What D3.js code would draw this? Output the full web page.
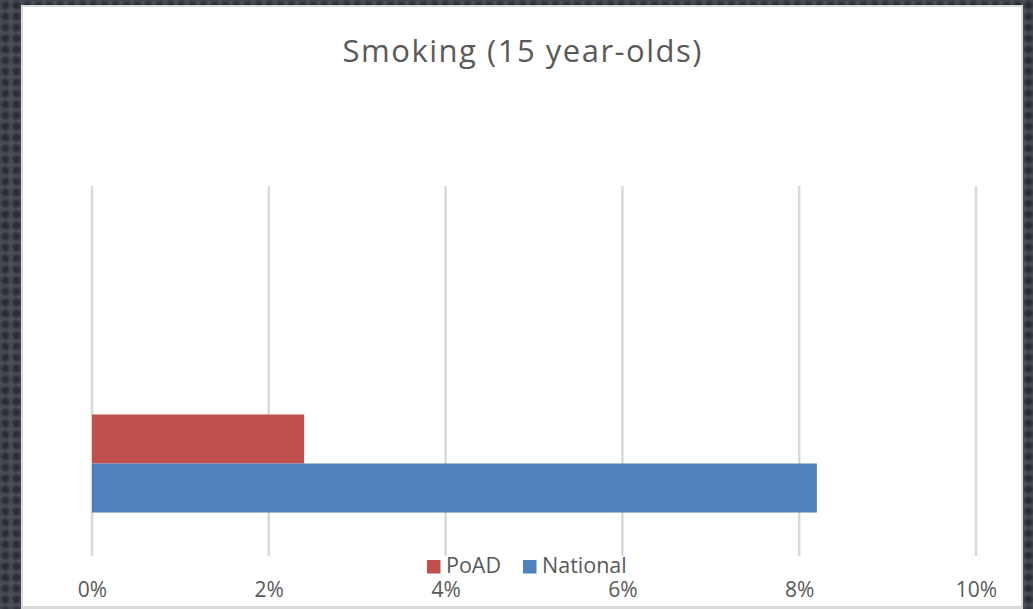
<!DOCTYPE html>
<html>
<head>
<meta charset="utf-8">
<script src="https://cdn.jsdelivr.net/npm/d3@7"></script>
<style>
  html, body { margin: 0; padding: 0; background: #3b3e46; }
  svg { display: block; }
</style>
</head>
<body>
<svg id="chart" width="1033" height="609"></svg>
<script>
// Chart data
const title = "Smoking (15 year-olds)";
const categories = ["15 year-olds", ""];
const seriesNames = ["PoAD", "National"];
const poadValues = [2.4, null];
const nationalValues = [8.2, null];
const tickValues = [0, 2, 4, 6, 8, 10];
const tickLabels = ["0%", "2%", "4%", "6%", "8%", "10%"];
const seriesColors = ["#c0504d", "#4f81bd"];

const W = 1033, H = 609;
const svg = d3.select("#chart");
const font = "'Open Sans', 'Noto Sans', sans-serif";
const textColor = "#595959";

// Dotted dark backdrop
const defs = svg.append("defs");
const pat = defs.append("pattern")
  .attr("id", "dots").attr("width", 11).attr("height", 11)
  .attr("patternUnits", "userSpaceOnUse");
pat.append("rect").attr("width", 11).attr("height", 11).attr("fill", "#4b4f58");
pat.append("circle").attr("cx", 5.5).attr("cy", 5.5).attr("r", 4.2).attr("fill", "#2a2d34");
const blur = defs.append("filter").attr("id", "soft");
blur.append("feGaussianBlur").attr("stdDeviation", 1.2);
svg.append("rect").attr("width", W).attr("height", H)
  .attr("fill", "url(#dots)").attr("filter", "url(#soft)");

// White chart panel with thin grey edge
svg.append("rect")
  .attr("x", 21).attr("y", 5).attr("width", 1002).attr("height", 606)
  .attr("fill", "#d9d9d9");
svg.append("rect")
  .attr("x", 23).attr("y", 7).attr("width", 998).attr("height", 599)
  .attr("fill", "#ffffff");

// Plot area
const plot = { left: 92, right: 976, top: 186, bottom: 556 };

const x = d3.scaleLinear()
  .domain([tickValues[0], tickValues[tickValues.length - 1]])
  .range([plot.left, plot.right]);

// Horizontal bar chart: first category sits at the bottom
const y = d3.scaleBand()
  .domain(categories.slice().reverse())
  .range([plot.top, plot.bottom])
  .paddingInner(0).paddingOuter(0);

// Gridlines
const grid = svg.append("g");
grid.selectAll("line").data(tickValues).join("line")
  .attr("x1", d => x(d)).attr("x2", d => x(d))
  .attr("y1", plot.top).attr("y2", plot.bottom)
  .attr("stroke", "#d9d9d9").attr("stroke-width", 2.5);

// Bars
const rows = categories.map((c, i) => ({
  category: c,
  values: [poadValues[i], nationalValues[i]]
}));
const barH = y.bandwidth() * 0.265;
const groupH = barH * 2;
rows.forEach(r => {
  const cy = y(r.category) + y.bandwidth() / 2;
  r.values.forEach((v, si) => {
    if (v == null) return;
    svg.append("rect")
      .attr("x", x(0))
      .attr("y", cy - groupH / 2 + si * barH)
      .attr("width", x(v) - x(0))
      .attr("height", barH)
      .attr("fill", seriesColors[si]);
  });
});

// X axis tick labels
const axis = d3.axisBottom(x)
  .tickValues(tickValues)
  .tickFormat((d, i) => tickLabels[i])
  .tickSize(0).tickPadding(0);
const ax = svg.append("g")
  .attr("transform", `translate(0, 597)`)
  .call(axis);
ax.select(".domain").remove();
ax.selectAll("text")
  .attr("dy", 0)
  .attr("font-family", font).attr("font-size", 21)
  .attr("fill", textColor);

// Title
svg.append("text")
  .attr("x", 522).attr("y", 62)
  .attr("text-anchor", "middle")
  .attr("font-family", font).attr("font-size", 31)
  .attr("textLength", 359).attr("lengthAdjust", "spacing")
  .attr("fill", textColor)
  .text(title);

// Legend
const legend = svg.append("g").attr("transform", "translate(427, 573)");
const legendX = [0, 96];
seriesNames.forEach((name, i) => {
  const g = legend.append("g").attr("transform", `translate(${legendX[i]}, 0)`);
  g.append("rect").attr("x", 0).attr("y", -13).attr("width", 13.5).attr("height", 13.5)
    .attr("fill", seriesColors[i]);
  g.append("text").attr("x", 19).attr("y", 0)
    .attr("font-family", font).attr("font-size", 21.5)
    .attr("fill", textColor).text(name);
});
</script>
</body>
</html>
